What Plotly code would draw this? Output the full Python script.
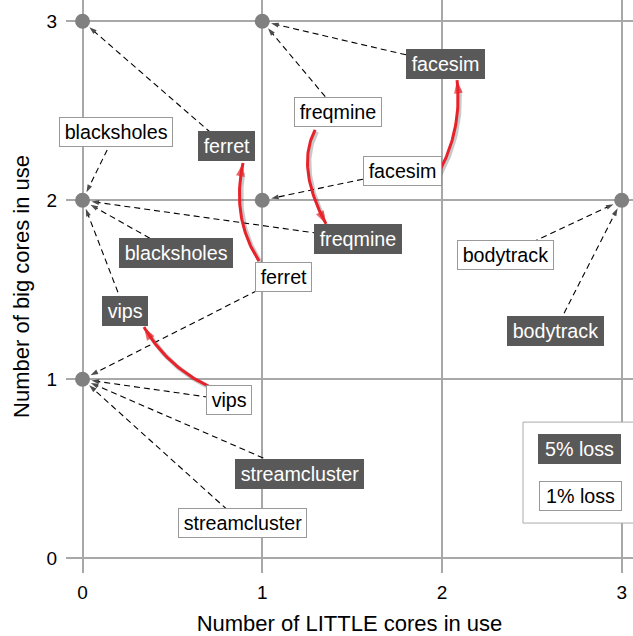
import plotly.graph_objects as go

# ---------------- data ----------------
benchmarks = ["blacksholes", "bodytrack", "facesim", "ferret", "freqmine", "streamcluster", "vips"]
# configuration chosen at 1% performance loss (LITTLE cores, big cores)
little_1pct = [0, 3, 1, 0, 1, 0, 0]
big_1pct = [2, 2, 2, 1, 3, 1, 1]
# configuration chosen at 5% performance loss
little_5pct = [0, 3, 1, 0, 0, 0, 0]
big_5pct = [2, 2, 3, 3, 2, 1, 2]
# benchmarks whose configuration changed (red arrows)
changed = ["ferret", "freqmine", "facesim", "vips"]
tick_vals = [0, 1, 2, 3]
tick_text = ["0", "1", "2", "3"]
legend_labels = ["5% loss", "1% loss"]

# ---------------- placement / style ----------------
W, H = 633, 636
M_L, M_R, M_T, M_B = 66, 0, 0, 63
XR = [-0.092, 3.063]
YR = [-0.082, 3.119]
PX_X = (W - M_L - M_R) / (XR[1] - XR[0])
PX_Y = (H - M_T - M_B) / (YR[1] - YR[0])

pos_1pct = {
    "blacksholes": (0.186, 2.382), "bodytrack": (2.351, 1.694), "facesim": (1.778, 2.164),
    "ferret": (1.121, 1.572), "freqmine": (1.422, 2.493), "streamcluster": (0.888, 0.197),
    "vips": (0.815, 0.884),
}
pos_5pct = {
    "blacksholes": (0.520, 1.706), "bodytrack": (2.629, 1.270), "facesim": (2.017, 2.762),
    "ferret": (0.799, 2.303), "freqmine": (1.533, 1.784), "streamcluster": (1.210, 0.471),
    "vips": (0.237, 1.382),
}
# red curve: start, mid-point, end (data coords)
curves = {
    "ferret": [(0.982, 1.661), (0.882, 1.918), (0.893, 2.208)],
    "freqmine": [(1.294, 2.393), (1.255, 2.158), (1.355, 1.868)],
    "facesim": [(1.980, 2.150), (2.073, 2.404), (2.084, 2.672)],
    "vips": [(0.710, 0.957), (0.498, 1.097), (0.342, 1.292)],
}

FONT = "Liberation Sans, Arial, sans-serif"
DARK = "#595959"
GRID = "#a8a8a8"
TIP_GAP = 9.0  # px between point centre and arrow tip
LABEL_SIZE = 19.7

fig = go.Figure()


def dashed_arrow(label_xy, pt):
    lx, ly = label_xy
    px, py = pt
    dxp = (lx - px) * PX_X
    dyp = (ly - py) * PX_Y
    d = (dxp ** 2 + dyp ** 2) ** 0.5
    tx = px + dxp / d * TIP_GAP / PX_X
    ty = py + dyp / d * TIP_GAP / PX_Y
    fig.add_trace(go.Scatter(
        x=[lx, tx], y=[ly, ty], mode="lines+markers",
        line=dict(color="black", width=1.1, dash="6px,4px"),
        marker=dict(symbol="arrow", size=[0, 8], color="black", angleref="previous",
                    line=dict(width=0)),
        hoverinfo="skip", showlegend=False, cliponaxis=False))


for i, b in enumerate(benchmarks):
    dashed_arrow(pos_1pct[b], (little_1pct[i], big_1pct[i]))
    dashed_arrow(pos_5pct[b], (little_5pct[i], big_5pct[i]))

# configuration points
pts = sorted(set(zip(little_1pct, big_1pct)) | set(zip(little_5pct, big_5pct)))
fig.add_trace(go.Scatter(
    x=[p[0] for p in pts], y=[p[1] for p in pts], mode="markers",
    marker=dict(size=15, color="#808080", line=dict(width=0)),
    hoverinfo="skip", showlegend=False, cliponaxis=False))

# red curved arrows
for b in changed:
    (x0, y0), (mx, my), (x2, y2) = curves[b]
    cx = 2 * mx - 0.5 * (x0 + x2)
    cy = 2 * my - 0.5 * (y0 + y2)
    n = 40
    xs, ys = [], []
    for k in range(n + 1):
        t = k / n
        xs.append((1 - t) ** 2 * x0 + 2 * (1 - t) * t * cx + t ** 2 * x2)
        ys.append((1 - t) ** 2 * y0 + 2 * (1 - t) * t * cy + t ** 2 * y2)
    ox, oy = 1.6 / PX_X, -1.6 / PX_Y
    fig.add_trace(go.Scatter(
        x=[v + ox for v in xs[:-3]], y=[v + oy for v in ys[:-3]], mode="lines",
        line=dict(color="rgba(60,60,60,0.28)", width=4.5),
        hoverinfo="skip", showlegend=False))
    fig.add_trace(go.Scatter(
        x=xs, y=ys, mode="lines+markers",
        line=dict(color="#e8222a", width=3),
        marker=dict(symbol="arrow", size=[0] * n + [14], color="#e8222a",
                    angleref="previous", line=dict(width=0)),
        hoverinfo="skip", showlegend=False))

annotations = []


def label(xy, text, dark, width=None):
    d = dict(x=xy[0], y=xy[1], xref="x", yref="y", showarrow=False,
             text=text if width else "\u200a" + text + "\u200a",
             font=dict(family=FONT, size=LABEL_SIZE, color="white" if dark else "black"),
             bgcolor=DARK if dark else "white",
             bordercolor=DARK if dark else "#999999",
             borderwidth=1, borderpad=3)
    if width:
        d["width"] = width
    annotations.append(d)


for b in benchmarks:
    label(pos_1pct[b], b, False)
    label(pos_5pct[b], b, True)

# legend
label((2.766, 0.611), legend_labels[0], True, width=75)
label((2.771, 0.348), legend_labels[1], False, width=75)

shapes = [dict(type="rect", xref="x", yref="y", x0=2.451, x1=3.3, y0=0.197, y1=0.761,
               line=dict(color="#aaaaaa", width=1), fillcolor="white", layer="above")]

axis_common = dict(
    tickvals=tick_vals, ticktext=tick_text, showgrid=True, gridcolor=GRID, gridwidth=1.5,
    zeroline=False, showline=False, ticks="", tickfont=dict(family=FONT, size=19, color="black"),
    fixedrange=True,
)
fig.update_layout(
    width=W, height=H,
    margin=dict(l=M_L, r=M_R, t=M_T, b=M_B),
    paper_bgcolor="white", plot_bgcolor="white",
    xaxis=dict(range=XR, title=dict(text="Number of LITTLE cores in use", standoff=14,
                                    font=dict(family=FONT, size=22, color="black")),
               ticklabelstandoff=6, **axis_common),
    yaxis=dict(range=YR, title=dict(text="Number of big cores in use", standoff=10,
                                    font=dict(family=FONT, size=22, color="black")),
               ticklabelstandoff=8, **axis_common),
    annotations=annotations, shapes=shapes,
    showlegend=False,
)

fig.write_html("out.html", config={"displayModeBar": False},
               post_script="document.body.style.margin='0';document.body.style.overflow='hidden';")
